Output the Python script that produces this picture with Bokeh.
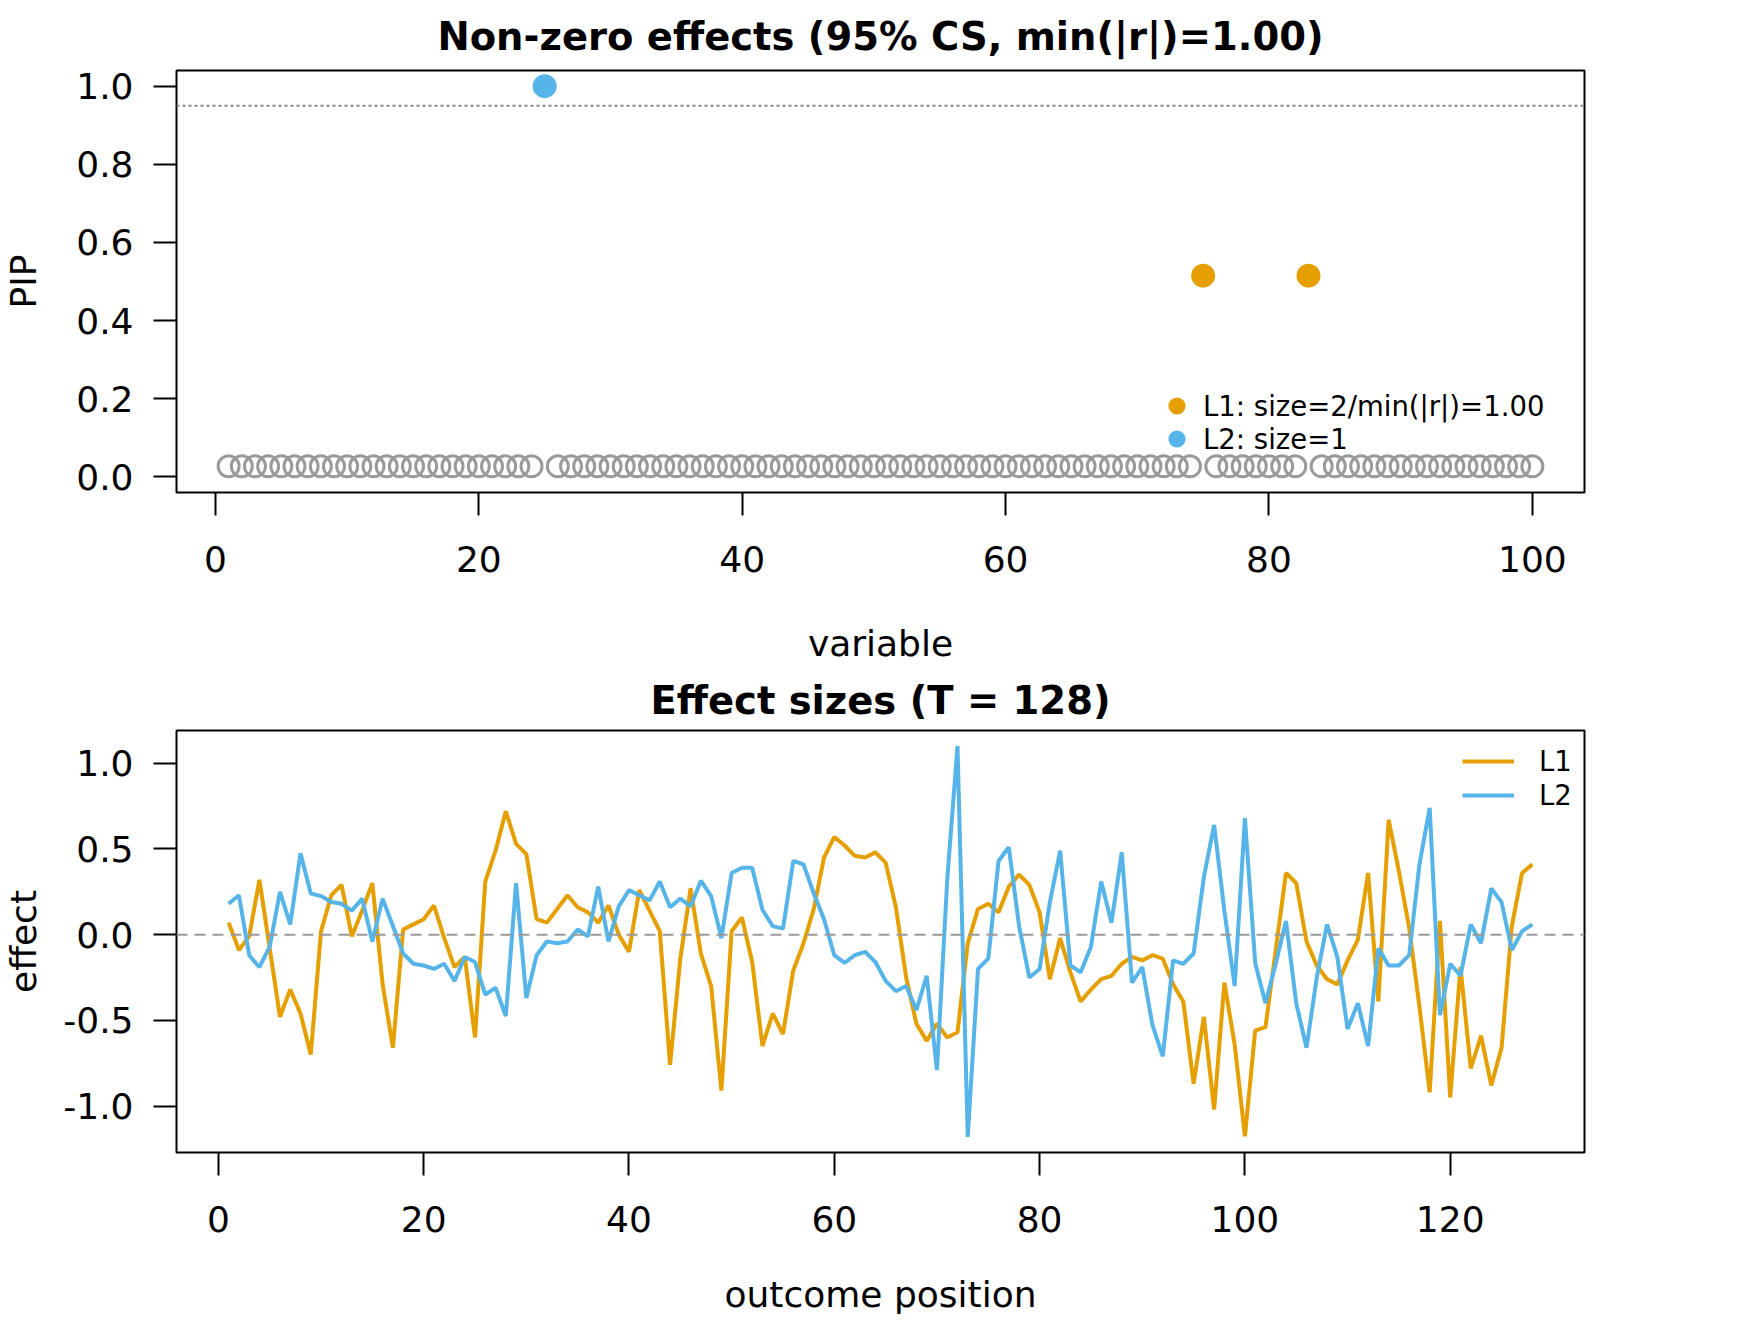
from bokeh.plotting import figure
from bokeh.models import (Range1d, FixedTicker, Span, Legend, LegendItem,
                          ColumnDataSource, NumeralTickFormatter)
from bokeh.layouts import column
from bokeh.embed import file_html
from bokeh.resources import INLINE

# ---------------- data ----------------
variables = list(range(1, 101))
pip = [0.027] * 24 + [1.0] + [0.027] * 49 + [0.515] + [0.027] * 7 + [0.515] + [0.027] * 17
cs_L1 = [75, 83]
cs_L2 = [25]
pip_ylim = (0.0, 1.0)
pip_threshold = 0.95

positions = list(range(1, 129))
effect_L1 = [
    0.07, -0.09, -0.01, 0.32, -0.08, -0.48, -0.32, -0.46, -0.70, 0.02,
    0.23, 0.29, -0.01, 0.14, 0.30, -0.29, -0.66, 0.03, 0.06, 0.09,
    0.17, -0.02, -0.19, -0.13, -0.60, 0.31, 0.49, 0.72, 0.53, 0.47,
    0.09, 0.07, 0.15, 0.23, 0.16, 0.13, 0.07, 0.17, 0.00, -0.10,
    0.26, 0.14, 0.02, -0.76, -0.14, 0.27, -0.11, -0.30, -0.91, 0.02,
    0.10, -0.16, -0.65, -0.46, -0.58, -0.21, -0.05, 0.15, 0.45, 0.57,
    0.52, 0.46, 0.45, 0.48, 0.42, 0.16, -0.25, -0.52, -0.62, -0.52,
    -0.60, -0.57, -0.05, 0.15, 0.18, 0.13, 0.28, 0.35, 0.29, 0.13,
    -0.26, -0.02, -0.22, -0.39, -0.32, -0.26, -0.24, -0.17, -0.13, -0.15,
    -0.12, -0.14, -0.29, -0.39, -0.87, -0.48, -1.02, -0.28, -0.64, -1.176,
    -0.56, -0.54, -0.09, 0.36, 0.30, -0.04, -0.18, -0.26, -0.29, -0.15,
    -0.03, 0.36, -0.39, 0.67, 0.37, 0.04, -0.42, -0.92, 0.08, -0.95,
    -0.19, -0.78, -0.59, -0.88, -0.66, 0.05, 0.36, 0.41,
]
effect_L2 = [
    0.18, 0.23, -0.12, -0.19, -0.07, 0.25, 0.06, 0.475, 0.24, 0.225,
    0.19, 0.18, 0.14, 0.21, -0.04, 0.21, 0.05, -0.11, -0.17, -0.18,
    -0.20, -0.17, -0.27, -0.13, -0.16, -0.35, -0.31, -0.475, 0.30, -0.37,
    -0.12, -0.04, -0.05, -0.04, 0.03, -0.01, 0.28, -0.04, 0.165, 0.26,
    0.23, 0.20, 0.31, 0.16, 0.21, 0.165, 0.315, 0.225, -0.02, 0.36,
    0.39, 0.39, 0.145, 0.05, 0.035, 0.43, 0.41, 0.24, 0.09, -0.12,
    -0.165, -0.12, -0.10, -0.16, -0.27, -0.33, -0.30, -0.44, -0.24, -0.79,
    0.32, 1.10, -1.18, -0.20, -0.14, 0.43, 0.51, 0.05, -0.25, -0.20,
    0.19, 0.49, -0.18, -0.22, -0.07, 0.31, 0.07, 0.48, -0.28, -0.19,
    -0.53, -0.71, -0.15, -0.17, -0.11, 0.335, 0.64, 0.14, -0.30, 0.68,
    -0.165, -0.40, -0.17, 0.08, -0.40, -0.66, -0.25, 0.06, -0.13, -0.55,
    -0.40, -0.65, -0.08, -0.18, -0.18, -0.12, 0.41, 0.74, -0.47, -0.17,
    -0.24, 0.06, -0.05, 0.27, 0.19, -0.09, 0.02, 0.06,
]

top_title = "Non-zero effects (95% CS, min(|r|)=1.00)"
bottom_title = "Effect sizes (T = 128)"
legend_top = ["L1: size=2/min(|r|)=1.00", "L2: size=1"]
legend_bottom = ["L1", "L2"]
top_xticks = [0, 20, 40, 60, 80, 100]
top_yticks = [0.0, 0.2, 0.4, 0.6, 0.8, 1.0]
bottom_xticks = [0, 20, 40, 60, 80, 100, 120]
bottom_yticks = [-1.0, -0.5, 0.0, 0.5, 1.0]

C1 = "#E69F00"
C2 = "#56B4E9"
GRAY = "#9a9a9a"
FONT = "DejaVu Sans"
FW, FH = 1408, 422


def pad(lo, hi, f=0.04):
    d = (hi - lo) * f
    return lo - d, hi + d


def style(p, xticks, yticks, yfmt, tick_std, xlab_std, ylab_std, title_std):
    p.outline_line_color = "black"
    p.outline_line_width = 2
    p.background_fill_color = "white"
    p.border_fill_color = "white"
    p.xgrid.visible = False
    p.ygrid.visible = False
    p.xaxis.ticker = FixedTicker(ticks=xticks)
    p.yaxis.ticker = FixedTicker(ticks=yticks)
    p.yaxis.formatter = NumeralTickFormatter(format=yfmt)
    for ax in (p.xaxis[0], p.yaxis[0]):
        ax.axis_line_color = None
        ax.major_tick_out = 23
        ax.major_tick_in = 0
        ax.minor_tick_out = 0
        ax.minor_tick_in = 0
        ax.major_tick_line_width = 2
        ax.major_tick_line_color = "black"
        ax.major_label_text_font = FONT
        ax.major_label_text_font_size = "36px"
        ax.major_label_text_color = "black"
        ax.axis_label_text_font = FONT
        ax.axis_label_text_font_size = "36px"
        ax.axis_label_text_font_style = "normal"
        ax.axis_label_text_color = "black"
    p.xaxis[0].major_label_standoff = tick_std
    p.yaxis[0].major_label_standoff = 20
    p.xaxis[0].axis_label_standoff = xlab_std
    p.yaxis[0].axis_label_standoff = ylab_std
    p.title.text_font = FONT
    p.title.text_font_size = "38.5px"
    p.title.text_font_style = "bold"
    p.title.align = "center"
    p.title.standoff = title_std
    p.title.text_color = "black"


# ---------------- top: PIP ----------------
xr1 = pad(min(variables), max(variables))
yr1 = pad(*pip_ylim)
p1 = figure(width=1752, height=70 + FH + 175, frame_width=FW, frame_height=FH,
            min_border_left=168, min_border_right=176, min_border_top=70,
            min_border_bottom=175, x_range=Range1d(*xr1), y_range=Range1d(*yr1),
            title=top_title, x_axis_label="variable", y_axis_label="PIP",
            output_backend="svg", toolbar_location=None)
style(p1, top_xticks, top_yticks, "0.0", tick_std=30, xlab_std=48, ylab_std=29, title_std=23)

cs_all = set(cs_L1) | set(cs_L2)
other = ColumnDataSource(dict(x=[v for v in variables if v not in cs_all],
                              y=[pip[v - 1] for v in variables if v not in cs_all]))
p1.scatter("x", "y", source=other, size=21, fill_color=None,
           line_color=GRAY, line_width=3)
s1 = ColumnDataSource(dict(x=cs_L1, y=[pip[v - 1] for v in cs_L1]))
s2 = ColumnDataSource(dict(x=cs_L2, y=[pip[v - 1] for v in cs_L2]))
r1 = p1.scatter("x", "y", source=s1, size=20, fill_color=C1, line_color=C1, line_width=4)
r2 = p1.scatter("x", "y", source=s2, size=20, fill_color=C2, line_color=C2, line_width=4)
p1.add_layout(Span(location=pip_threshold, dimension="width", line_color="#888888",
                   line_dash="3 3", line_width=2))
leg1 = Legend(items=[LegendItem(label=legend_top[0], renderers=[r1]),
                     LegendItem(label=legend_top[1], renderers=[r2])],
              location=(984, 37), padding=0, margin=0, spacing=0,
              glyph_width=33, glyph_height=33, label_height=33, label_standoff=10,
              label_text_font=FONT, label_text_font_size="27.5px",
              label_text_color="black", border_line_alpha=0, background_fill_alpha=0)
p1.add_layout(leg1)

# ---------------- bottom: effects ----------------
xr2 = pad(min(positions), max(positions))
yr2 = pad(min(effect_L1 + effect_L2), max(effect_L1 + effect_L2))
p2 = figure(width=1752, height=63 + FH + 166, frame_width=FW, frame_height=FH,
            min_border_left=168, min_border_right=176, min_border_top=63,
            min_border_bottom=166, x_range=Range1d(*xr2), y_range=Range1d(*yr2),
            title=bottom_title, x_axis_label="outcome position", y_axis_label="effect",
            output_backend="svg", toolbar_location=None)
style(p2, bottom_xticks, bottom_yticks, "0.0", tick_std=30, xlab_std=39, ylab_std=16, title_std=16)
p2.add_layout(Span(location=0, dimension="width", line_color="#9a9a9a",
                   line_dash="11 7", line_width=2))
l1 = p2.line(positions, effect_L1, line_color=C1, line_width=4)
l2 = p2.line(positions, effect_L2, line_color=C2, line_width=4)
leg2 = Legend(items=[LegendItem(label=legend_bottom[0], renderers=[l1]),
                     LegendItem(label=legend_bottom[1], renderers=[l2])],
              location=(1286, 340), padding=0, margin=0, spacing=0,
              glyph_width=52, glyph_height=34, label_height=34, label_standoff=25,
              label_text_font=FONT, label_text_font_size="27.5px",
              label_text_color="black", border_line_alpha=0, background_fill_alpha=0)
p2.add_layout(leg2)

layout = column(p1, p2, spacing=0)
open("out.html", "w").write(file_html(layout, INLINE))
